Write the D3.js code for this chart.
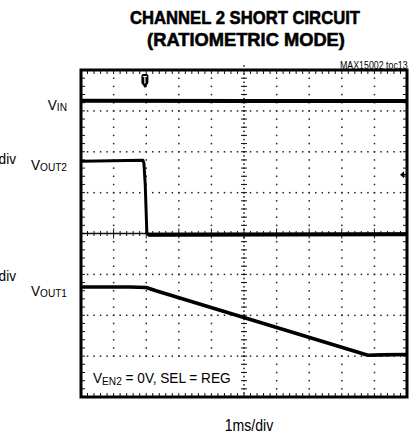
<!DOCTYPE html>
<html>
<head>
<meta charset="utf-8">
<script src="https://cdn.jsdelivr.net/npm/d3@7"></script>
<style>
  body { margin: 0; background: #fff; }
  svg { display: block; font-family: "Liberation Sans", Arial, sans-serif; }
</style>
</head>
<body>
<svg id="svg"></svg>
<script>
// scope settings: 10 horizontal divisions at 1ms/div, 8 vertical divisions
const timeDivs = 10;
const voltDivs = 8;
const minorPerDiv = 5;

// traces, [time (ms), screen position (divisions from bottom)]
const vinPoints = [[0, 7.25], [5, 7.24], [10, 7.24]];
const vout2Points = [[0, 5.77], [1.9, 5.79], [1.93, 5.72], [1.97, 5.2], [2.02, 4.02], [2.06, 3.97], [10, 3.98]];
const vout1Points = [[0, 2.69], [1.5, 2.69], [2.0, 2.68], [2.3, 2.6], [8.8, 1.02], [9.2, 1.03], [10, 1.04]];

const traceLabels = [
  {main: 'V', sub: 'IN', scale: null},
  {main: 'V', sub: 'OUT2', scale: 'div'},
  {main: 'V', sub: 'OUT1', scale: 'div'}
];

const titleLines = ['CHANNEL 2 SHORT CIRCUIT', '(RATIOMETRIC MODE)'];

const triggerTime = 1.96;
const triggerLevel = 5.44;

const width = 409, height = 435;

const svg = d3.select('#svg')
  .attr('width', width)
  .attr('height', height);

svg.append('rect').attr('width', width).attr('height', height).attr('fill', '#fff');

const x = d3.scaleLinear().domain([0, timeDivs]).range([81, 407]);
const y = d3.scaleLinear().domain([0, voltDivs]).range([397, 70]);

// narrow text helper (the original uses a condensed face)
function narrow(g, px, py, sx) {
  return g.append('text')
    .attr('transform', `translate(${px},${py}) scale(${sx},1)`);
}

// title, squeezed to the widths of the condensed original
const titleSpots = [[245, 24, 230], [246, 45.5, 198]];
titleLines.forEach((str, i) => {
  const [cx, by, w] = titleSpots[i];
  const t = svg.append('text')
    .attr('text-anchor', 'middle')
    .attr('font-size', 19).attr('font-weight', 'bold')
    .attr('stroke', '#000').attr('stroke-width', 0.6)
    .text(str);
  const natural = t.node().getComputedTextLength();
  t.attr('transform', `translate(${cx},${by}) scale(${w / natural},1)`);
});
narrow(svg, 340, 69, 0.84)
  .attr('font-size', 10.5)
  .text('MAX15002 toc13');

// grid dots
const grid = svg.append('g').attr('fill', '#222');
const minorX = d3.range(0, timeDivs * minorPerDiv + 1).map(i => i / minorPerDiv);
const minorY = d3.range(0, voltDivs * minorPerDiv + 1).map(i => i / minorPerDiv);

d3.range(1, voltDivs).filter(k => k !== voltDivs / 2).forEach(k => {
  grid.selectAll(null)
    .data(minorX)
    .enter().append('rect')
      .attr('x', d => x(d) - 0.7)
      .attr('y', y(k) - 0.7)
      .attr('width', 1.5).attr('height', 1.5);
});
d3.range(1, timeDivs).filter(k => k !== timeDivs / 2).forEach(k => {
  grid.selectAll(null)
    .data(minorY)
    .enter().append('rect')
      .attr('x', x(k) - 0.7)
      .attr('y', d => y(d) - 0.7)
      .attr('width', 1.5).attr('height', 1.5);
});

// centre axes with ticks
const axes = svg.append('g').attr('stroke', '#111').attr('stroke-width', 1);
axes.append('line')
  .attr('x1', x(0)).attr('x2', x(timeDivs))
  .attr('y1', y(voltDivs / 2)).attr('y2', y(voltDivs / 2))
  .attr('stroke-width', 1.3);
axes.selectAll(null)
  .data(minorX)
  .enter().append('line')
    .attr('x1', d => x(d)).attr('x2', d => x(d))
    .attr('y1', d => y(voltDivs / 2) - (Number.isInteger(d) ? 5 : 2.5))
    .attr('y2', d => y(voltDivs / 2) + (Number.isInteger(d) ? 5 : 2.5));
axes.selectAll(null)
  .data(minorY)
  .enter().append('line')
    .attr('y1', d => y(d)).attr('y2', d => y(d))
    .attr('x1', x(timeDivs / 2) - 3)
    .attr('x2', x(timeDivs / 2) + 3);
svg.append('g').attr('fill', '#111')
  .selectAll('rect')
  .data(minorY.flatMap(d => [d, d + 0.1]))
  .enter().append('rect')
    .attr('x', x(timeDivs / 2) - 0.7)
    .attr('y', d => y(d) - 0.7)
    .attr('width', 1.5).attr('height', 1.5);

// frame edge ticks
axes.selectAll(null)
  .data(minorX)
  .enter().append('line')
    .attr('x1', d => x(d)).attr('x2', d => x(d))
    .attr('y1', y(0)).attr('y2', y(0) - 4);
axes.selectAll(null)
  .data(minorX)
  .enter().append('line')
    .attr('x1', d => x(d)).attr('x2', d => x(d))
    .attr('y1', y(voltDivs)).attr('y2', y(voltDivs) + 4);
axes.selectAll(null)
  .data(minorY)
  .enter().append('line')
    .attr('y1', d => y(d)).attr('y2', d => y(d))
    .attr('x1', x(0)).attr('x2', x(0) + 4);
axes.selectAll(null)
  .data(minorY)
  .enter().append('line')
    .attr('y1', d => y(d)).attr('y2', d => y(d))
    .attr('x1', x(timeDivs)).attr('x2', x(timeDivs) - 4);

// annotation box in the lower left
svg.append('rect')
  .attr('x', 86).attr('y', 360)
  .attr('width', 152).attr('height', 33)
  .attr('fill', '#fff');
const note = narrow(svg, 93, 383, 0.88).attr('font-size', 15.5);
note.append('tspan').text('V');
note.append('tspan').attr('font-size', 11.5).attr('dy', 2).text('EN2');
note.append('tspan').attr('dy', -2).text(' = 0V, SEL = REG');

// traces
svg.append('clipPath').attr('id', 'screen')
  .append('rect')
  .attr('x', x(0)).attr('y', y(voltDivs))
  .attr('width', x(timeDivs) - x(0)).attr('height', y(0) - y(voltDivs));

const line = d3.line().x(d => x(d[0])).y(d => y(d[1]));
const traces = svg.append('g').attr('clip-path', 'url(#screen)')
  .attr('fill', 'none').attr('stroke', '#000')
  .attr('stroke-linejoin', 'round');
traces.append('path').attr('d', line(vinPoints)).attr('stroke-width', 4);
traces.append('path').attr('d', line(vout2Points)).attr('stroke-width', 3);
traces.append('path').attr('d', line(vout2Points.slice(-2))).attr('stroke-width', 4);
traces.append('path').attr('d', line(vout1Points)).attr('stroke-width', 3.6);

// frame
svg.append('rect')
  .attr('x', x(0)).attr('y', y(voltDivs))
  .attr('width', x(timeDivs) - x(0)).attr('height', y(0) - y(voltDivs))
  .attr('fill', 'none').attr('stroke', '#000').attr('stroke-width', 3);

// trigger position marker
const tx = x(triggerTime), ty = y(voltDivs) + 4;
svg.append('path')
  .attr('d', `M${tx - 3.5},${ty + 2} q0,-2 2,-2 h3 q2,0 2,2 v7 l-3.5,5 l-3.5,-5 Z`)
  .attr('fill', '#000');
svg.append('path')
  .attr('d', `M${tx - 2},${ty + 2.5} h4 M${tx},${ty + 2.5} v7`)
  .attr('stroke', '#fff').attr('stroke-width', 1.2).attr('fill', 'none');

// trigger level marker
const ly = y(triggerLevel);
svg.append('path')
  .attr('d', `M${x(timeDivs) - 7},${ly} l4,-3.5 v7 Z`)
  .attr('fill', '#000');
svg.append('line')
  .attr('x1', x(timeDivs) - 4).attr('x2', x(timeDivs))
  .attr('y1', ly).attr('y2', ly)
  .attr('stroke', '#000').attr('stroke-width', 1.5);

// trace labels on the left
traceLabels.forEach((d, i) => {
  const baseY = [110, 170, 296][i];
  const t = narrow(svg, 67, baseY, 0.88)
    .attr('font-size', 15.5).attr('text-anchor', 'end');
  t.append('tspan').text(d.main);
  t.append('tspan').attr('font-size', 11.5).attr('dy', 1).text(d.sub);
  if (d.scale) {
    narrow(svg, 16, baseY - (i === 1 ? 6 : 15), 0.88)
      .attr('font-size', 15.5).attr('text-anchor', 'end')
      .text(d.scale);
  }
});

// time base
narrow(svg, 249, 431, 0.88)
  .attr('font-size', 16).attr('text-anchor', 'middle')
  .text('1ms/div');
</script>
</body>
</html>
